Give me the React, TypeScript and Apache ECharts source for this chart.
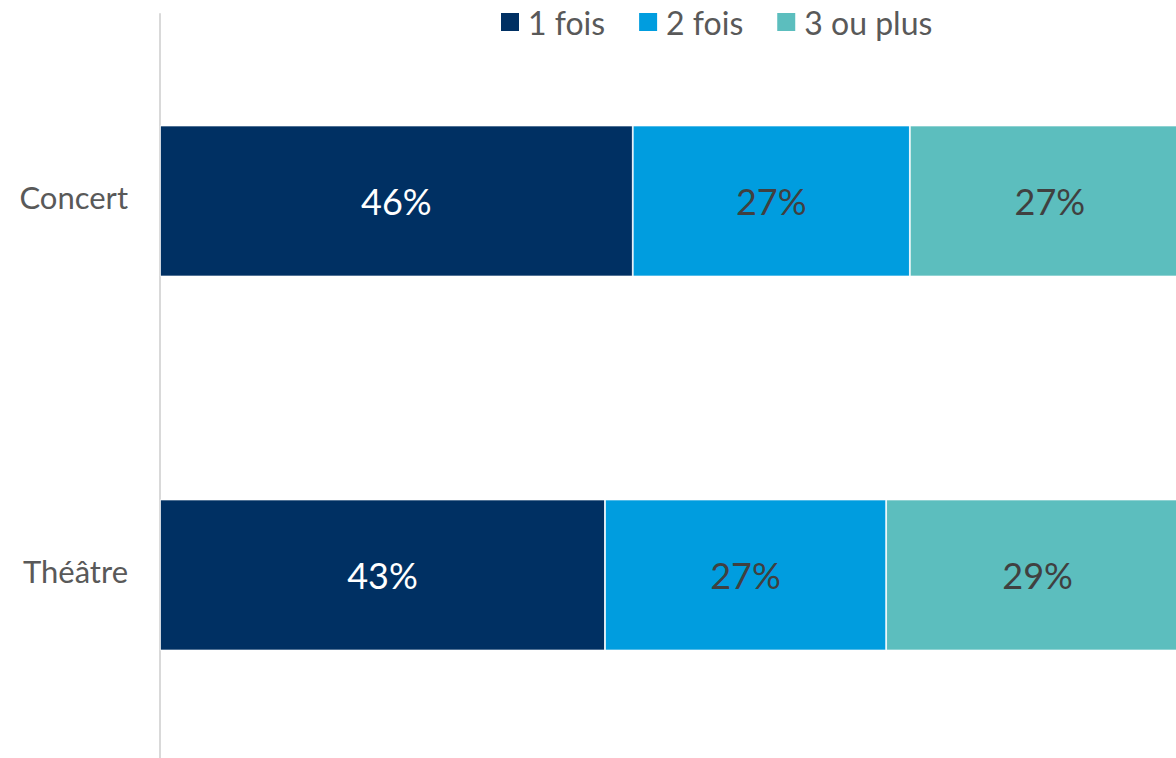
import React, { useEffect, useRef } from "react";
import * as echarts from "echarts";

const categories = ["Concert", "Théâtre"];
const seriesNames = ["1 fois", "2 fois", "3 ou plus"];
const oneTime = [45.9, 43.2];
const twoTimes = [26.9, 27.3];
const threePlus = [27.2, 29.4];
const colors = ["#003063", "#009DDF", "#5CBEBE"];
const labelColors = ["#ffffff", "#404040", "#404040"];

const FONT = "Lato, 'Noto Sans', sans-serif";

export default function App() {
  const ref = useRef<HTMLDivElement>(null);
  useEffect(() => {
    document.body.style.margin = "0";
    const chart = echarts.init(ref.current!, null, { renderer: "svg" });
    const values = [oneTime, twoTimes, threePlus];
    chart.setOption({
      animation: false,
      textStyle: { fontFamily: FONT },
      legend: {
        top: 6,
        left: 499,
        padding: 0,
        itemWidth: 20,
        itemHeight: 20,
        itemGap: 32,
        icon: "rect",
        textStyle: { fontSize: 32, color: "#595959", fontFamily: FONT, padding: [0, 0, 0, 3] },
        data: seriesNames,
      },
      grid: { left: 160, top: 14, width: 1030, height: 748, containLabel: false },
      xAxis: { type: "value", min: 0, max: 100, show: false },
      yAxis: {
        type: "category",
        inverse: true,
        data: categories,
        axisLine: { show: true, lineStyle: { color: "#d9d9d9", width: 2 } },
        axisTick: { show: false },
        axisLabel: {
          margin: 32,
          formatter: (v: string) => "{c|" + v + "}",
          rich: {
            c: {
              fontSize: 31,
              color: "#595959",
              fontFamily: FONT,
              padding: [0, 0, 8, 0],
            },
          },
        },
      },
      series: seriesNames.map((name, i) => ({
        name,
        type: "bar",
        stack: "total",
        barWidth: 151,
        data: values[i],
        itemStyle: { color: colors[i], borderColor: "#ffffff", borderWidth: 0.8 },
        label: {
          show: true,
          position: "inside",
          fontSize: 36,
          color: labelColors[i],
          fontFamily: FONT,
          formatter: (p: any) => Math.round(p.value) + "%",
        },
      })),
    });
    return () => chart.dispose();
  }, []);
  return (
    <div style={{ width: 1176, height: 758, overflow: "hidden", position: "relative" }}>
      <div ref={ref} style={{ width: 1200, height: 770 }} />
    </div>
  );
}
